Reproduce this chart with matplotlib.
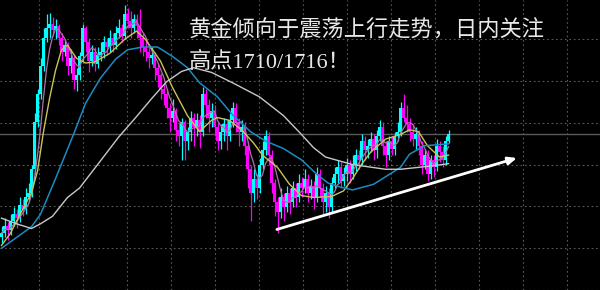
import matplotlib.pyplot as plt
import numpy as np
import pandas as pd

# gold hourly candles (USD/oz)
opens = [1679.6, 1680.4, 1682.0, 1681.0, 1683.0, 1684.4, 1683.6, 1686.4, 1685.6, 1688.0,
         1689.0, 1694.0, 1704.0, 1710.0, 1716.0, 1722.0, 1724.0, 1725.0, 1723.6, 1724.4,
         1722.0, 1719.0, 1720.4, 1716.0, 1717.6, 1713.0, 1714.0, 1718.0, 1724.0, 1721.0,
         1717.0, 1719.0, 1716.4, 1718.4, 1719.0, 1721.0, 1720.0, 1722.0, 1720.4, 1723.0,
         1724.0, 1722.4, 1727.0, 1725.6, 1724.0, 1726.0, 1724.4, 1722.0, 1720.0, 1719.0,
         1717.6, 1718.4, 1715.6, 1714.0, 1711.0, 1710.0, 1707.0, 1705.0, 1706.4, 1702.4,
         1701.0, 1704.0, 1700.0, 1702.0, 1705.0, 1703.0, 1704.4, 1702.0, 1710.0, 1707.6,
         1705.0, 1706.4, 1703.0, 1700.0, 1702.0, 1703.6, 1701.0, 1704.4, 1707.0, 1704.0,
         1702.0, 1703.0, 1699.0, 1694.0, 1689.0, 1692.0, 1690.0, 1695.0, 1698.0, 1701.0,
         1697.0, 1691.0, 1687.0, 1685.0, 1688.0, 1686.0, 1689.0, 1687.0, 1690.0, 1688.0,
         1691.0, 1690.0, 1692.0, 1689.0, 1690.4, 1688.0, 1693.0, 1690.0, 1687.0, 1689.0,
         1686.0, 1691.0, 1693.0, 1694.4, 1691.6, 1693.0, 1695.0, 1693.0, 1695.0, 1697.0,
         1696.0, 1700.0, 1698.0, 1699.0, 1700.4, 1698.0, 1701.0, 1703.0, 1699.0, 1697.0,
         1700.0, 1698.4, 1701.0, 1702.0, 1707.0, 1705.0, 1703.6, 1702.0, 1700.4, 1701.6,
         1699.0, 1695.0, 1697.0, 1693.0, 1696.0, 1694.4, 1699.0, 1697.6, 1696.0, 1700.0]
closes = [1680.4, 1682.0, 1681.0, 1683.0, 1684.4, 1683.6, 1686.4, 1685.6, 1688.0, 1689.0,
          1694.0, 1704.0, 1710.0, 1716.0, 1722.0, 1724.0, 1725.0, 1723.6, 1724.4, 1722.0,
          1719.0, 1720.4, 1716.0, 1717.6, 1713.0, 1714.0, 1718.0, 1724.0, 1721.0, 1717.0,
          1719.0, 1716.4, 1718.4, 1719.0, 1721.0, 1720.0, 1722.0, 1720.4, 1723.0, 1724.0,
          1722.4, 1727.0, 1725.6, 1724.0, 1726.0, 1724.4, 1722.0, 1720.0, 1719.0, 1717.6,
          1718.4, 1715.6, 1714.0, 1711.0, 1710.0, 1707.0, 1705.0, 1706.4, 1702.4, 1701.0,
          1704.0, 1700.0, 1702.0, 1705.0, 1703.0, 1704.4, 1702.0, 1710.0, 1707.6, 1705.0,
          1706.4, 1703.0, 1700.0, 1702.0, 1703.6, 1701.0, 1704.4, 1707.0, 1704.0, 1702.0,
          1703.0, 1699.0, 1694.0, 1689.0, 1692.0, 1690.0, 1695.0, 1698.0, 1701.0, 1697.0,
          1691.0, 1687.0, 1685.0, 1688.0, 1686.0, 1689.0, 1687.0, 1690.0, 1688.0, 1691.0,
          1690.0, 1692.0, 1689.0, 1690.4, 1688.0, 1693.0, 1690.0, 1687.0, 1689.0, 1686.0,
          1691.0, 1693.0, 1694.4, 1691.6, 1693.0, 1695.0, 1693.0, 1695.0, 1697.0, 1696.0,
          1700.0, 1698.0, 1699.0, 1700.4, 1698.0, 1701.0, 1703.0, 1699.0, 1697.0, 1700.0,
          1698.4, 1701.0, 1702.0, 1707.0, 1705.0, 1703.6, 1702.0, 1700.4, 1701.6, 1699.0,
          1695.0, 1697.0, 1693.0, 1696.0, 1694.4, 1699.0, 1697.6, 1696.0, 1700.0, 1701.4]
highs = [1682.0, 1683.6, 1682.8, 1684.4, 1686.0, 1685.6, 1688.0, 1687.6, 1690.0, 1691.0,
         1695.0, 1706.0, 1711.0, 1717.6, 1724.0, 1727.0, 1727.2, 1726.4, 1726.0, 1725.0,
         1723.0, 1721.6, 1721.0, 1719.6, 1718.4, 1715.6, 1719.0, 1725.0, 1724.4, 1722.0,
         1720.4, 1720.0, 1720.0, 1721.0, 1722.4, 1722.0, 1723.6, 1723.0, 1724.4, 1726.0,
         1725.0, 1729.0, 1728.4, 1727.6, 1727.0, 1727.0, 1728.0, 1723.0, 1721.6, 1720.0,
         1720.0, 1719.0, 1716.4, 1714.4, 1712.4, 1711.0, 1708.0, 1709.0, 1707.0, 1704.0,
         1705.0, 1704.4, 1703.0, 1706.4, 1706.0, 1706.0, 1705.6, 1711.6, 1711.0, 1709.0,
         1708.0, 1707.6, 1704.0, 1703.6, 1705.0, 1704.4, 1706.0, 1708.4, 1708.0, 1705.0,
         1704.4, 1704.0, 1700.0, 1695.0, 1694.0, 1693.0, 1696.4, 1700.0, 1702.4, 1702.0,
         1698.0, 1692.0, 1688.0, 1690.0, 1689.0, 1690.4, 1690.0, 1691.6, 1691.0, 1693.0,
         1692.4, 1694.0, 1693.0, 1692.0, 1691.6, 1694.4, 1694.0, 1691.0, 1690.4, 1690.0,
         1692.4, 1694.4, 1696.0, 1695.6, 1694.4, 1696.4, 1696.0, 1697.0, 1698.4, 1698.0,
         1701.6, 1701.0, 1700.4, 1702.0, 1701.6, 1702.4, 1704.4, 1704.0, 1700.0, 1701.0,
         1701.0, 1702.0, 1704.0, 1708.4, 1710.0, 1707.6, 1705.0, 1703.6, 1703.0, 1702.4,
         1700.0, 1698.4, 1698.0, 1697.0, 1697.0, 1700.4, 1700.0, 1699.0, 1701.0, 1702.4]
lows = [1678.4, 1679.6, 1679.0, 1680.0, 1682.0, 1681.6, 1682.8, 1684.0, 1684.4, 1687.0,
        1688.0, 1693.0, 1703.0, 1709.0, 1715.0, 1721.0, 1722.0, 1722.4, 1721.6, 1720.4,
        1717.0, 1718.0, 1714.0, 1714.4, 1711.0, 1710.6, 1713.0, 1717.0, 1719.0, 1714.6,
        1716.0, 1715.0, 1715.6, 1717.0, 1717.6, 1718.4, 1719.0, 1719.0, 1719.6, 1722.0,
        1721.0, 1721.6, 1724.0, 1722.0, 1723.0, 1722.0, 1719.0, 1718.0, 1717.0, 1715.6,
        1716.4, 1713.0, 1711.6, 1709.0, 1707.6, 1705.0, 1702.0, 1704.0, 1700.0, 1699.0,
        1696.0, 1696.0, 1698.0, 1700.0, 1699.0, 1701.0, 1698.6, 1701.0, 1705.0, 1702.0,
        1703.0, 1701.0, 1698.0, 1698.4, 1700.0, 1698.0, 1700.0, 1703.0, 1702.0, 1699.0,
        1700.0, 1697.0, 1690.0, 1683.0, 1687.0, 1687.6, 1689.0, 1694.0, 1697.0, 1695.0,
        1689.0, 1684.0, 1680.4, 1683.6, 1683.0, 1685.0, 1684.4, 1686.0, 1686.0, 1687.0,
        1688.0, 1689.0, 1687.0, 1687.6, 1685.6, 1687.0, 1688.0, 1684.4, 1685.0, 1683.6,
        1685.0, 1690.0, 1691.0, 1690.0, 1690.4, 1691.6, 1691.0, 1692.0, 1693.6, 1694.0,
        1695.0, 1696.0, 1696.4, 1697.6, 1696.0, 1696.4, 1700.0, 1697.0, 1694.4, 1696.0,
        1697.0, 1697.0, 1700.0, 1701.0, 1704.0, 1702.0, 1700.0, 1699.0, 1698.4, 1697.0,
        1693.0, 1694.0, 1691.6, 1692.0, 1692.4, 1693.6, 1695.6, 1694.4, 1695.0, 1699.6]

# moving averages (candle index, price)
ma_yellow_idx = [0, 3, 6, 10, 12, 14, 16, 18, 20, 22, 25, 28, 31, 36, 41, 45, 48, 53, 57, 62,
                 66, 70, 72, 76, 80, 84, 87, 92, 96, 100, 104, 110, 114, 117, 120, 123, 128,
                 133, 136, 139, 142, 146, 149]
ma_yellow = [1677.8, 1680.4, 1684.2, 1689.0, 1693.6, 1702.0, 1709.0, 1715.0, 1719.4, 1720.4,
             1717.6, 1716.6, 1716.8, 1718.6, 1721.6, 1723.4, 1721.6, 1717.0, 1711.4, 1705.4,
             1702.0, 1704.4, 1705.0, 1704.4, 1702.4, 1699.6, 1697.0, 1694.4, 1690.8, 1688.4,
             1688.0, 1688.2, 1689.4, 1692.0, 1695.0, 1697.6, 1700.4, 1701.4, 1702.4, 1702.0,
             1699.0, 1696.6, 1697.0]
ma_blue_idx = [0, 7, 10, 13, 18, 24, 28, 33, 38, 42, 47, 52, 57, 62, 66, 72, 77, 83, 88, 94,
               100, 105, 109, 113, 117, 124, 127, 133, 136, 141, 149]
ma_blue = [1677.2, 1680.4, 1681.8, 1684.4, 1692.0, 1701.4, 1708.0, 1713.4, 1717.4, 1719.4,
           1720.0, 1720.0, 1718.0, 1715.6, 1712.4, 1709.4, 1705.6, 1702.0, 1700.0, 1698.4,
           1696.0, 1693.0, 1691.0, 1690.2, 1689.6, 1690.8, 1692.0, 1694.4, 1697.2, 1699.0,
           1699.4]
ma_white_idx = [0, 5, 10, 13, 17, 22, 26, 33, 39, 45, 50, 55, 60, 64, 70, 77, 86, 94, 100,
                104, 108, 117, 128, 133, 139, 147, 149]
ma_white = [1683.6, 1682.4, 1681.4, 1682.4, 1684.0, 1688.0, 1690.0, 1695.8, 1700.8, 1705.2,
            1709.0, 1712.6, 1714.8, 1715.6, 1714.6, 1712.4, 1709.4, 1705.4, 1701.4, 1698.6,
            1696.6, 1695.0, 1694.0, 1694.0, 1694.4, 1695.0, 1695.2]

# hand drawn trend arrow (candle index, price)
trend_start = (91.8, 1681.2)
trend_end = (171.8, 1696.4)

line1 = "黄金倾向于震荡上行走势，日内关注"
line2 = "高点1710/1716！"

fig = plt.figure(figsize=(6, 2.9), dpi=100, facecolor="black")
ax = fig.add_axes([0, 0, 1, 1], facecolor="black")

o = np.array(opens)
c = np.array(closes)
h = np.array(highs)
l = np.array(lows)
x = np.arange(len(c))
up = c >= o
cols = np.where(up, "#00ffff", "#ff00ff")

# wicks + bodies
ax.vlines(x, l, h, colors=cols, linewidth=0.9, zorder=3)
body_h = np.maximum(np.abs(c - o), 0.25)
ax.bar(x, body_h, bottom=np.minimum(o, c), width=0.7, color=cols, linewidth=0, zorder=3)

# moving averages
ma5 = pd.Series(closes).rolling(5, min_periods=1).mean()
ax.plot(x, ma5, color="#b070a8", lw=0.9, zorder=4)
ax.plot(ma_yellow_idx, ma_yellow, color="#c8c45a", lw=1.0, zorder=4)
ax.plot(ma_blue_idx, ma_blue, color="#1a8cc4", lw=1.1, zorder=4)
ax.plot(ma_white_idx, ma_white, color="#c8c8c8", lw=1.0, zorder=4)

# current price line
ax.axhline(closes[-1], color="#5a5a5a", lw=1.0, zorder=2)

# arrow
ax.annotate("", xy=trend_end, xytext=trend_start,
            arrowprops=dict(arrowstyle="-|>,head_length=0.5,head_width=0.22",
                            color="white", lw=2.0, shrinkA=0, shrinkB=0), zorder=6)

ax.set_xlim(-0.5, 199.5)
ax.set_ylim(1672, 1730)
ax.set_xticks(np.arange(12.5, 200, 44 / 3))
ax.set_yticks(1721.6 - 8.88 * np.arange(0, 7))
ax.grid(True, color="#5a5a5a", linestyle=(0, (1.5, 2.5)), linewidth=0.8, zorder=1)
ax.tick_params(length=0, labelbottom=False, labelleft=False)
for s in ax.spines.values():
    s.set_visible(False)

fam = ["Liberation Serif", "Noto Sans CJK SC"]
fig.text(0.315, 0.895, line1, color="#e8e8e8", fontsize=16, family=fam, va="center")
fig.text(0.315, 0.785, line2, color="#e8e8e8", fontsize=16, family=fam, va="center")

fig.savefig("out.png", dpi=100, facecolor="black")
